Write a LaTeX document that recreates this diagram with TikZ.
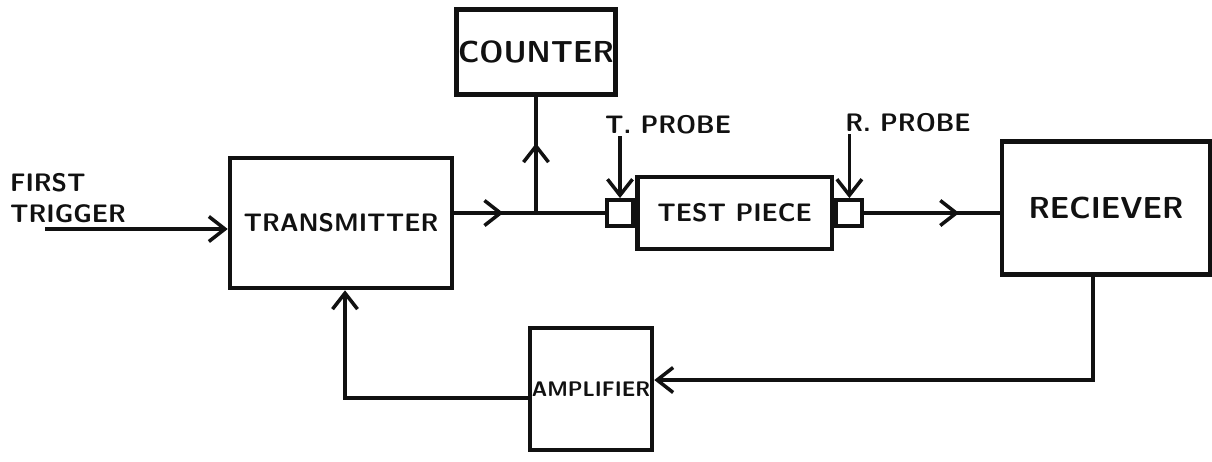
\documentclass[tikz,border=0pt]{standalone}
\usepackage{tikz}
\usetikzlibrary{arrows.meta, positioning, calc, decorations.markings}
\usepackage{xcolor}
\definecolor{inkblack}{HTML}{111111}

\begin{document}
\begin{tikzpicture}[x=0.02cm, y=-0.02cm,
    blockbox/.style={draw=inkblack, line width=2.6pt, inner sep=1pt,
      font=\sffamily\bfseries\LARGE, text=inkblack},
    probebox/.style={draw=inkblack, line width=2.2pt, inner sep=0pt,
      minimum width=0.52cm, minimum height=0.52cm},
    wire/.style={draw=inkblack, line width=2pt},
    tip/.style={-{Straight Barb[length=3.2mm, width=5mm, line width=2pt]}},
    midarrow/.style={postaction={decorate}, decoration={markings,
      mark=at position #1 with {\arrow{Straight Barb[length=3.2mm, width=5mm, line width=2pt]}}}},
    lbl/.style={font=\sffamily\bfseries\Large, text=inkblack, inner sep=1pt}]
  \useasboundingbox (0,0) rectangle (1212,461);

  \node[blockbox, minimum width=4.44cm, minimum height=2.6cm, font=\sffamily\bfseries\Large] (tx) at (341,223) {TRANSMITTER};
  \node[blockbox, minimum width=3.16cm, minimum height=1.7cm] (counter) at (536,52) {COUNTER};
  \node[probebox] (tprobe) at (620,213) {};
  \node[blockbox, minimum width=3.9cm, minimum height=1.44cm, anchor=west, font=\sffamily\bfseries\Large] (piece) at (tprobe.east) {TEST PIECE};
  \node[probebox, anchor=west] (rprobe) at (piece.east) {};
  \node[blockbox, minimum width=4.16cm, minimum height=2.66cm] (rx) at (1106,208) {RECIEVER};
  \node[blockbox, minimum width=2.44cm, minimum height=2.44cm, inner sep=0pt, font=\sffamily\bfseries\large] (amp) at (591,389) {AMPLIFIER};

  \node[lbl, align=left, anchor=west] (trigger) at (8,198) {FIRST\\TRIGGER};
  \node[lbl] (tlabel) at (668,125) {T. PROBE};
  \node[lbl] (rlabel) at (908,123) {R. PROBE};

  \coordinate (trig) at (45,229);
  \coordinate (j) at (536,213);
  \coordinate (rxdown) at (1093,380);
  \coordinate (ampleft) at (345,398);

  \draw[wire, tip] (trig) -- (trig -| tx.west);
  \draw[wire, midarrow=0.6] (tx.east |- j) -- (j);
  \draw[wire] (j) -- (tprobe.west);
  \draw[wire, midarrow=0.6] (j) -- (counter.south);
  \draw[wire, tip] (tlabel.south -| tprobe) -- (tprobe.north);
  \draw[wire, tip] (rlabel.south -| rprobe) -- (rprobe.north);
  \draw[wire, midarrow=0.7] (rprobe.east) -- (rprobe.east -| rx.west);
  \draw[wire, tip] (rx.south -| rxdown) -- (rxdown) -- (rxdown -| amp.east);
  \draw[wire, tip] (amp.west |- ampleft) -- (ampleft) -- (ampleft |- tx.south);
\end{tikzpicture}
\end{document}
